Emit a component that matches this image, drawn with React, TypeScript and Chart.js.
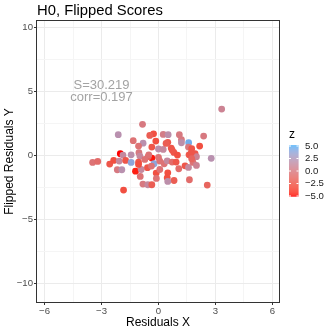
import React, { useEffect, useRef } from "react";
import { Chart, registerables } from "chart.js";

Chart.register(...registerables);

const titleText = "H0, Flipped Scores";
const xAxisTitle = "Residuals X";
const yAxisTitle = "Flipped Residuals Y";
const annotationLines = ["S=30.219", "corr=0.197"];
const annotationPos = [-3, 5];
const xTickValues = [-6, -3, 0, 3, 6];
const yTickValues = [-10, -5, 0, 5, 10];
const legendTitle = "z";
const legendValues = [5, 2.5, 0, -2.5, -5];

const xValues = [
  3.33, -0.84, -2.12, -0.26, -0.46, 0.25, 0.51, 1.1, 2.38, -1.33,
  -0.81, -0.14, 0.49, 1.21, 1.59, 2.17, -1.05, -0.35, 0.0, 0.25,
  0.67, 1.21, 1.58, 1.75, 1.93, 0.81, 1.0, -2.01, -1.87, -1.44,
  -1.03, -0.98, -0.35, -0.54, 2.78, 1.61, 2.0, -3.47, -3.2, -2.57,
  -2.36, -2.07, -1.73, -1.44, -1.05, -0.23, -0.72, 0.07, 0.3, 0.46,
  0.72, 0.93, 1.07, 1.4, 1.58, 1.82, 2.0, -2.17, -1.93, -1.21,
  -0.91, -0.58, -0.12, 0.49, -0.96, -0.11, 0.46, 0.82, 1.63, -0.82,
  -0.56, -0.35, 0.49, 2.57, -1.84, -1.05, 0.4, 0.72, 1.73, 1.75,
  -0.51, 0.0, -0.37, 0.07,
];
const yValues = [
  3.62, 2.43, 1.62, 1.69, 1.56, 1.64, 1.62, 1.62, 1.51, 1.15,
  0.96, 1.12, 1.02, 1.23, 0.99, 0.73, 0.73, 0.65, 0.5, 0.47,
  0.57, 0.99, 0.65, 0.52, 0.13, 0.23, 0.03, 0.13, 0.03, 0.05,
  0.21, -0.05, -0.21, -0.1, -0.23, 0.05, -0.1, -0.55, -0.47, -0.68,
  -0.39, -0.44, -0.39, -0.55, -0.52, -0.65, -0.31, -0.44, -0.65, -0.42,
  -0.52, -0.52, -1.04, -0.81, -0.94, -0.55, -0.78, -1.12, -1.12, -1.23,
  -1.1, -0.96, -1.38, -1.36, -1.64, -1.8, -1.75, -1.96, -1.9, -2.24,
  -2.29, -2.29, -2.03, -2.32, -2.71, -0.7, 0.94, 0.42, 0.21, -0.26,
  0.05, -0.16, -0.83, -1.1,
];
const zValues = [
  0.8, 0, 2, -2.8, -2, 0.3, 1.8, 0, 0, -0.5,
  2, -2.8, -2.4, 0, 4.5, -2.8, -0.5, -2.4, 1.8, 1.3,
  -2.4, 1.8, 0, -2.4, -2.4, -2.4, -2.8, -5, 1.3, 1.8,
  0, 1.3, -4.8, -1.5, 2, -2.4, 0.8, -0.5, -1, -2.4,
  -2.8, 1.3, -2.4, 3.8, -2.4, 3.8, -0.5, -0.5, -0.5, 1.3,
  -1, -2.4, -1, -2.4, 1.3, -0.5, 0.8, 0, 2, -4.6,
  1.3, -2.4, -2.8, -2.8, -0.5, -0.5, -2.8, -2, -1, 0,
  1.3, -2, 1.8, -1.5, -2.8, -2.8, -2, -2.4, -2.4, -1.5,
  -0.5, -0.5, -0.5, -0.5,
];

const FONT = "'Liberation Sans', Arial, Helvetica, sans-serif";
const LOW = "#FF0000";
const HIGH = "#56B1F7";
const Z_MIN = -5;
const Z_MAX = 5;

function hexToRgb(h: string) {
  const n = parseInt(h.slice(1), 16);
  return [(n >> 16) & 255, (n >> 8) & 255, n & 255];
}
function toLin(c: number) {
  c /= 255;
  return c <= 0.04045 ? c / 12.92 : Math.pow((c + 0.055) / 1.055, 2.4);
}
function fromLin(c: number) {
  const v = c <= 0.0031308 ? 12.92 * c : 1.055 * Math.pow(c, 1 / 2.4) - 0.055;
  return Math.max(0, Math.min(255, Math.round(v * 255)));
}
const WX = 0.95047, WY = 1.0, WZ = 1.08883;
function f(t: number) {
  return t > 0.008856 ? Math.cbrt(t) : 7.787 * t + 16 / 116;
}
function fi(t: number) {
  return t * t * t > 0.008856 ? t * t * t : (t - 16 / 116) / 7.787;
}
function rgbToLab(rgb: number[]) {
  const [r, g, b] = rgb.map(toLin);
  const X = r * 0.4124 + g * 0.3576 + b * 0.1805;
  const Y = r * 0.2126 + g * 0.7152 + b * 0.0722;
  const Z = r * 0.0193 + g * 0.1192 + b * 0.9505;
  const fx = f(X / WX), fy = f(Y / WY), fz = f(Z / WZ);
  return [116 * fy - 16, 500 * (fx - fy), 200 * (fy - fz)];
}
function labToRgb(lab: number[]) {
  const fy = (lab[0] + 16) / 116;
  const fx = fy + lab[1] / 500;
  const fz = fy - lab[2] / 200;
  const X = fi(fx) * WX, Y = fi(fy) * WY, Z = fi(fz) * WZ;
  const r = X * 3.2406 + Y * -1.5372 + Z * -0.4986;
  const g = X * -0.9689 + Y * 1.8758 + Z * 0.0415;
  const b = X * 0.0557 + Y * -0.204 + Z * 1.057;
  return [fromLin(r), fromLin(g), fromLin(b)];
}
const labLow = rgbToLab(hexToRgb(LOW));
const labHigh = rgbToLab(hexToRgb(HIGH));
function zColor(z: number) {
  const t = Math.max(0, Math.min(1, (z - Z_MIN) / (Z_MAX - Z_MIN)));
  const lab = labLow.map((v, i) => v + (labHigh[i] - v) * t);
  const [r, g, b] = labToRgb(lab);
  return `rgb(${r},${g},${b})`;
}

function fmt(v: number, digits = 0) {
  const s = Math.abs(v).toFixed(digits);
  return v < 0 ? "\u2212" + s : s;
}
function isMajor(v: number, majors: number[]) {
  return majors.some((m) => Math.abs(m - v) < 1e-9);
}
function range(a: number, b: number, step: number) {
  const out: number[] = [];
  for (let v = a; v <= b + 1e-9; v += step) out.push(Math.round(v * 1000) / 1000);
  return out;
}

const decor = {
  id: "decor",
  afterDraw(chart: any) {
    const { ctx, chartArea: a, scales } = chart;
    ctx.save();
    ctx.strokeStyle = "#333333";
    ctx.lineWidth = 1;
    ctx.strokeRect(a.left - 0.5, a.top - 0.5, a.right - a.left + 1, a.bottom - a.top + 1);

    const ax = scales.x.getPixelForValue(annotationPos[0]);
    const ay = scales.y.getPixelForValue(annotationPos[1]);
    ctx.fillStyle = "#A3A3A3";
    ctx.font = `13px ${FONT}`;
    ctx.textAlign = "center";
    ctx.textBaseline = "middle";
    const lh = 12.6;
    annotationLines.forEach((t, i) => {
      ctx.fillText(t, ax, ay + (i - (annotationLines.length - 1) / 2) * lh);
    });

    ctx.fillStyle = "#000000";
    ctx.font = `14.8px ${FONT}`;
    ctx.textAlign = "left";
    ctx.textBaseline = "alphabetic";
    ctx.fillText(titleText, a.left, 15);

    ctx.font = `12px ${FONT}`;
    ctx.textAlign = "center";
    ctx.fillText(xAxisTitle, (a.left + a.right) / 2, 326);

    ctx.save();
    ctx.translate(12.5, (a.top + a.bottom) / 2);
    ctx.rotate(-Math.PI / 2);
    ctx.fillText(yAxisTitle, 0, 0);
    ctx.restore();

    ctx.textAlign = "left";
    ctx.font = `12px ${FONT}`;
    ctx.fillText(legendTitle, 289, 137.5);
    const barL = 289, barW = 9.5, barTop = 145, barBot = 196.5;
    const zAt = (py: number) => 5 - (py - 146) / 5;
    for (let py = barTop; py < barBot; py += 0.5) {
      ctx.fillStyle = zColor(zAt(py + 0.25));
      ctx.fillRect(barL, py, barW, 0.6);
    }
    ctx.strokeStyle = "#FFFFFF";
    ctx.lineWidth = 1;
    ctx.font = `9.6px ${FONT}`;
    ctx.textBaseline = "middle";
    legendValues.forEach((v) => {
      const py = 146 + (5 - v) * 5;
      ctx.beginPath();
      ctx.moveTo(barL, py);
      ctx.lineTo(barL + 2, py);
      ctx.moveTo(barL + barW - 2, py);
      ctx.lineTo(barL + barW, py);
      ctx.stroke();
      ctx.fillStyle = "#1A1A1A";
      ctx.fillText(fmt(v, 1), 305, py);
    });
    ctx.restore();
  },
};

export default function App() {
  const ref = useRef<HTMLCanvasElement | null>(null);
  useEffect(() => {
    if (!ref.current) return;
    const xMinor = range(-6, 6, 1.5);
    const yMinor = range(-10, 10, 2.5);
    const gridColor = (majors: number[]) => (c: any) =>
      c.tick && isMajor(c.tick.value, majors) ? "#EBEBEB" : "#F5F5F5";
    const tickColor = (majors: number[]) => (c: any) =>
      c.tick && isMajor(c.tick.value, majors) ? "#333333" : "rgba(0,0,0,0)";
    const chart = new Chart(ref.current, {
      type: "scatter",
      data: {
        datasets: [
          {
            data: xValues.map((x, i) => ({ x, y: yValues[i] })),
            backgroundColor: zValues.map(zColor),
            borderWidth: 0,
            pointRadius: 3.4,
            pointHoverRadius: 3.4,
          },
        ],
      },
      options: {
        responsive: false,
        animation: false,
        devicePixelRatio: 1,
        layout: { padding: { top: 21, right: 53, left: 0, bottom: 0 } },
        plugins: { legend: { display: false }, tooltip: { enabled: false }, title: { display: false } },
        events: [],
        scales: {
          x: {
            type: "linear",
            min: -6.4,
            max: 6.35,
            afterBuildTicks: (s: any) => {
              s.ticks = xMinor.map((v) => ({ value: v }));
            },
            afterFit: (s: any) => {
              s.height = 30;
            },
            ticks: {
              autoSkip: false,
              maxRotation: 0,
              minRotation: 0,
              padding: 1,
              color: "#4D4D4D",
              font: { family: FONT, size: 9.6 },
              callback: (v: any) => (isMajor(Number(v), xTickValues) ? fmt(Number(v)) : ""),
            },
            grid: {
              color: gridColor(xTickValues),
              tickColor: tickColor(xTickValues),
              tickLength: 3,
              lineWidth: 1,
            },
            border: { display: false },
          },
          y: {
            type: "linear",
            min: -11.45,
            max: 10.5,
            afterBuildTicks: (s: any) => {
              s.ticks = yMinor.map((v) => ({ value: v }));
            },
            afterFit: (s: any) => {
              s.width = 37;
            },
            ticks: {
              autoSkip: false,
              padding: 1,
              color: "#4D4D4D",
              font: { family: FONT, size: 9.6 },
              callback: (v: any) => (isMajor(Number(v), yTickValues) ? fmt(Number(v)) : ""),
            },
            grid: {
              color: gridColor(yTickValues),
              tickColor: tickColor(yTickValues),
              tickLength: 3,
              lineWidth: 1,
            },
            border: { display: false },
          },
        },
      },
      plugins: [decor],
    } as any);
    return () => chart.destroy();
  }, []);
  return (
    <div style={{ position: "fixed", left: 0, top: 0, width: 332, height: 332, background: "#FFFFFF" }}>
      <canvas ref={ref} width={332} height={332} style={{ display: "block" }} />
    </div>
  );
}
